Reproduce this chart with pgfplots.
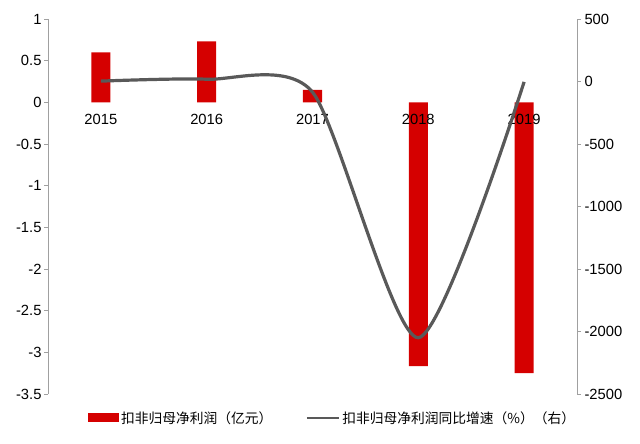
\documentclass[border=0pt]{standalone}
\usepackage{fontspec}
\setmainfont{Liberation Sans}
\newfontfamily\cjk{Noto Sans CJK SC}
\usepackage{pgfplots}
\pgfplotsset{compat=1.18}
\usetikzlibrary{calc}
\definecolor{barred}{RGB}{213,0,0}
\definecolor{linegray}{RGB}{89,89,89}
\definecolor{axisgray}{RGB}{160,160,160}

\begin{document}
\begin{tikzpicture}
\pgfplotsset{
  base/.style={
    scale only axis, width=529bp, height=375bp,
    xmin=-0.5, xmax=4.5,
    tick align=outside, major tick length=4bp,
    every tick/.style={axisgray, line width=0.8pt},
    axis line style={axisgray, line width=1pt},
    tick label style={font=\fontsize{14.8}{16}\selectfont, text=black},
    /pgf/number format/assume math mode=true,
    /pgf/number format/1000 sep={},
  }
}
% left axis: net profit bars (yi yuan)
\begin{axis}[base, name=ax, axis on top,
  axis y line*=left, axis x line*=middle,
  x axis line style={draw=none},
  ymin=-3.5, ymax=1,
  ytick={-3.5,-3,-2.5,-2,-1.5,-1,-0.5,0,0.5,1},
  yticklabel style={xshift=1bp},
  xtick={0,1,2,3,4}, xticklabels={2015,2016,2017,2018,2019},
  xtick style={draw=none},
  xticklabel style={yshift=-4bp},
  legend style={at={(0.538,-0.064)}, anchor=center, draw=none, fill=none,
    legend columns=2, font=\cjk\fontsize{13.8}{15}\selectfont,
    /tikz/every even column/.append style={column sep=31bp}},
  legend cell align=left,
]
\addplot[ybar, bar width=0.18, fill=barred, draw=none,
  legend image code/.code={\fill[barred] (0bp,-4.5bp) rectangle (31bp,4.5bp);}]
  coordinates {(0,0.60)(1,0.73)(2,0.15)(3,-3.166)(4,-3.25)};
\addlegendentry{扣非归母净利润（亿元）}
\addlegendimage{linegray, line width=3pt,
  legend image code/.code={\draw[linegray, line width=3pt] (0bp,0bp) -- (32bp,0bp);}}
\addlegendentry{扣非归母净利润同比增速（\%）（右）}
\end{axis}
% right axis: yoy growth (%)
\begin{axis}[base, at={(ax.south west)}, anchor=south west,
  axis y line*=right, axis x line=none,
  ymin=-2500, ymax=500,
  ytick={-2500,-2000,-1500,-1000,-500,0,500},
]
\addplot[linegray, line width=3.2bp, smooth, tension=0.42]
  coordinates {(0,3)(1,18)(2,-85)(3,-2050)(4,-3)};
\end{axis}
\path ($(ax.south west)+(-48bp,-50bp)$) rectangle ($(ax.north east)+(63bp,19bp)$);
\end{tikzpicture}
\end{document}
